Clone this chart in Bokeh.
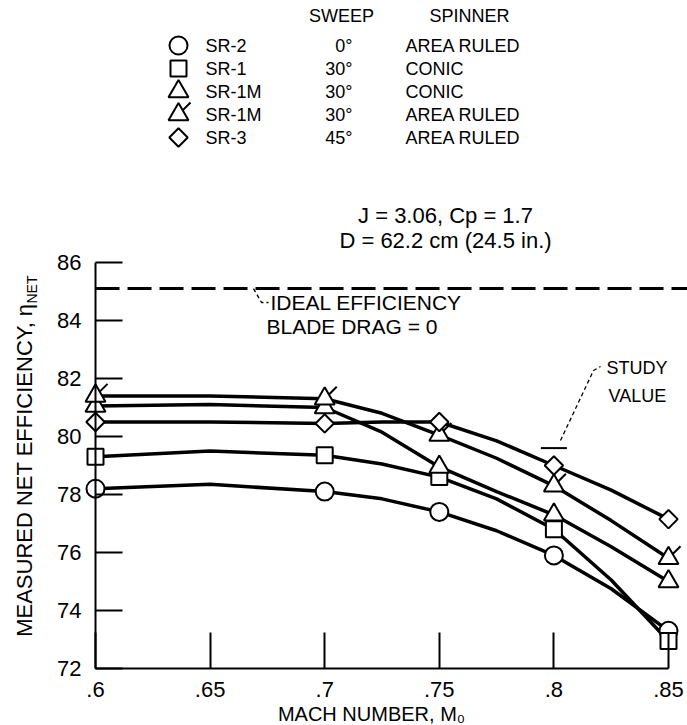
import math
from bokeh.plotting import figure
from bokeh.models import Range1d, FixedTicker, LinearAxis
from bokeh.core.properties import value
from bokeh.embed import file_html
from bokeh.resources import INLINE

# ---------------- data ----------------
mach = [0.60, 0.70, 0.75, 0.80, 0.85]
sr2 = [78.2, 78.1, 77.4, 75.9, 73.3]           # circle
sr1 = [79.3, 79.35, 78.6, 76.8, 72.95]         # square
sr1m_conic = [81.05, 81.0, 78.95, 77.3, 75.0]  # triangle
sr1m_ar = [81.4, 81.3, 80.05, 78.3, 75.8]      # flagged triangle
sr3 = [80.5, 80.45, 80.5, 79.0, 77.15]         # diamond

# faired curves as drawn on the chart
fair_mach = [0.60, 0.65, 0.70, 0.725, 0.75, 0.775, 0.80, 0.825, 0.85]
fair_sr2 = [78.2, 78.35, 78.1, 77.85, 77.4, 76.75, 75.9, 74.75, 73.3]
fair_sr1 = [79.3, 79.5, 79.35, 79.05, 78.6, 77.85, 76.8, 75.05, 72.95]
fair_sr1m_conic = [81.05, 81.1, 81.0, 80.15, 78.95, 78.1, 77.3, 76.2, 75.0]
fair_sr1m_ar = [81.4, 81.4, 81.3, 80.8, 80.05, 79.25, 78.3, 77.1, 75.8]
fair_sr3 = [80.5, 80.5, 80.45, 80.5, 80.5, 79.85, 79.0, 78.15, 77.15]

ideal_efficiency = 85.1
study_mach = 0.80
study_value = 79.6

x_ticks = [0.60, 0.65, 0.70, 0.75, 0.80, 0.85]
x_tick_labels = [".6", ".65", ".7", ".75", ".8", ".85"]
y_ticks = [72, 74, 76, 78, 80, 82, 84, 86]

legend_names = ["SR-2", "SR-1", "SR-1M", "SR-1M", "SR-3"]
legend_sweep = ["0°", "30°", "30°", "30°", "45°"]
legend_spinner = ["AREA RULED", "CONIC", "CONIC", "AREA RULED", "AREA RULED"]
legend_markers = ["circle", "square", "triangle", "triangle", "square"]

# ---------------- layout (picture pixels) ----------------
FONT = "Liberation Sans"
W, H = 687, 725
AX_LEFT_PX = 95.0     # picture x of first x tick
AX_BOTTOM_PX = 668.0  # picture y of first y tick
XPX = 2292.0          # px per Mach unit
YPX = 29.0            # px per efficiency point


def X(px):
    return x_ticks[0] + (px - AX_LEFT_PX) / XPX


def Y(py):
    return y_ticks[0] + (AX_BOTTOM_PX - py) / YPX


p = figure(width=W, height=H, title=None,
           x_range=Range1d(X(0), X(W)), y_range=Range1d(Y(H), Y(0)),
           x_axis_location=None, y_axis_location=None,
           output_backend="svg", toolbar_location=None,
           min_border=0, min_border_left=0, min_border_right=0,
           min_border_top=0, min_border_bottom=0)
p.grid.visible = False
p.outline_line_color = None
p.background_fill_color = "white"

xaxis = LinearAxis(fixed_location=y_ticks[0])
yaxis = LinearAxis(fixed_location=x_ticks[0])
for ax, ticks, tick_len in ((xaxis, x_ticks, 36), (yaxis, y_ticks, 27)):
    ax.ticker = FixedTicker(ticks=ticks)
    ax.bounds = (ticks[0], ticks[-1])
    ax.major_tick_in = tick_len
    ax.major_tick_out = 0
    ax.minor_tick_in = 0
    ax.minor_tick_out = 0
    ax.axis_line_width = 2
    ax.major_tick_line_width = 2
    ax.axis_line_color = "black"
    ax.major_tick_line_color = "black"
    ax.major_label_text_font = FONT
    ax.major_label_text_font_size = "22px"
    ax.major_label_text_color = "black"
xaxis.major_label_overrides = dict(zip(x_ticks, x_tick_labels))
xaxis.major_label_standoff = 13
yaxis.major_label_standoff = 14
p.add_layout(xaxis, "below")
p.add_layout(yaxis, "left")

# ideal efficiency line (from the y axis to the right edge)
p.line([x_ticks[0], X(W)], [ideal_efficiency, ideal_efficiency],
       line_color="black", line_width=3, line_dash="24 8")

# curves
for fair in (fair_sr2, fair_sr1, fair_sr1m_conic, fair_sr1m_ar, fair_sr3):
    p.line(fair_mach, fair, line_color="black", line_width=3.5)

# flags of area-ruled SR-1M
p.ray(x=mach, y=sr1m_ar, length=17, length_units="screen", angle=45,
      angle_units="deg", line_color="black", line_width=2)

mk = dict(fill_color="white", line_color="black", line_width=2)
p.scatter(mach, sr2, marker="circle", size=18, **mk)
p.scatter(mach, sr1, marker="square", size=16, **mk)
p.scatter(mach, sr1m_conic, marker="triangle", size=20, **mk)
p.scatter(mach, sr1m_ar, marker="triangle", size=20, **mk)
p.scatter(mach, sr3, marker="square", angle=math.pi / 4, size=13, **mk)

# study value
p.scatter([study_mach], [study_value], marker="dash", size=26,
          line_color="black", line_width=2)
p.line([X(560), X(593), X(600)], [Y(440), Y(370), Y(366)],
       line_color="black", line_width=1.3, line_dash="4 3")

# ideal leader
p.line([X(253), X(261), X(268)], [ideal_efficiency, Y(302), Y(302)],
       line_color="black", line_width=1.3, line_dash="4 3")


def txt(xs, ys, texts, size="20px", align="left", **kw):
    p.text(x=xs, y=ys, text=texts, text_font=value(FONT),
           text_font_size=value(size), text_align=align,
           text_baseline="middle", text_color="black", **kw)


txt([X(270)], [Y(302)], ["IDEAL EFFICIENCY"], size="21px")
txt([X(266)], [Y(326)], ["BLADE DRAG = 0"], size="21px")
txt([X(606), X(608)], [Y(367), Y(395)], ["STUDY", "VALUE"], size="18px")
txt([X(445), X(445)], [Y(215), Y(240)],
    ["J = 3.06, Cp = 1.7", "D = 62.2 cm (24.5 in.)"], size="22px", align="center")

# legend table
LEG_TOP, LEG_STEP = 45, 23
rows_y = [Y(LEG_TOP + i * LEG_STEP) for i in range(len(legend_names))]
txt([X(341), X(469)], [Y(15), Y(15)], ["SWEEP", "SPINNER"],
    size="18px", align="center")
leg_angles = [math.pi / 4 if i == 4 else 0 for i in range(len(legend_markers))]
p.ray(x=[X(178)], y=[rows_y[3]], length=17, length_units="screen",
      angle=45, angle_units="deg", line_color="black", line_width=2)
p.scatter(x=[X(178)] * 5, y=rows_y, marker=legend_markers,
          angle=leg_angles, size=[18, 16, 20, 20, 13], **mk)
txt([X(205)] * 5, rows_y, legend_names, size="18px")
txt([X(352)] * 5, rows_y, legend_sweep, size="18px", align="right")
txt([X(405)] * 5, rows_y, legend_spinner, size="18px")

# axis titles
txt([X(371)], [Y(713)], ["MACH NUMBER, M₀"], size="20px", align="center")
txt([X(24)], [Y(303)], ["MEASURED NET EFFICIENCY, η"], size="22px",
    align="right", angle=90, angle_units="deg")
txt([X(24)], [Y(303)], ["NET"], size="14px", align="left",
    angle=90, angle_units="deg", x_offset=7)

open("out.html", "w").write(file_html(p, INLINE))
